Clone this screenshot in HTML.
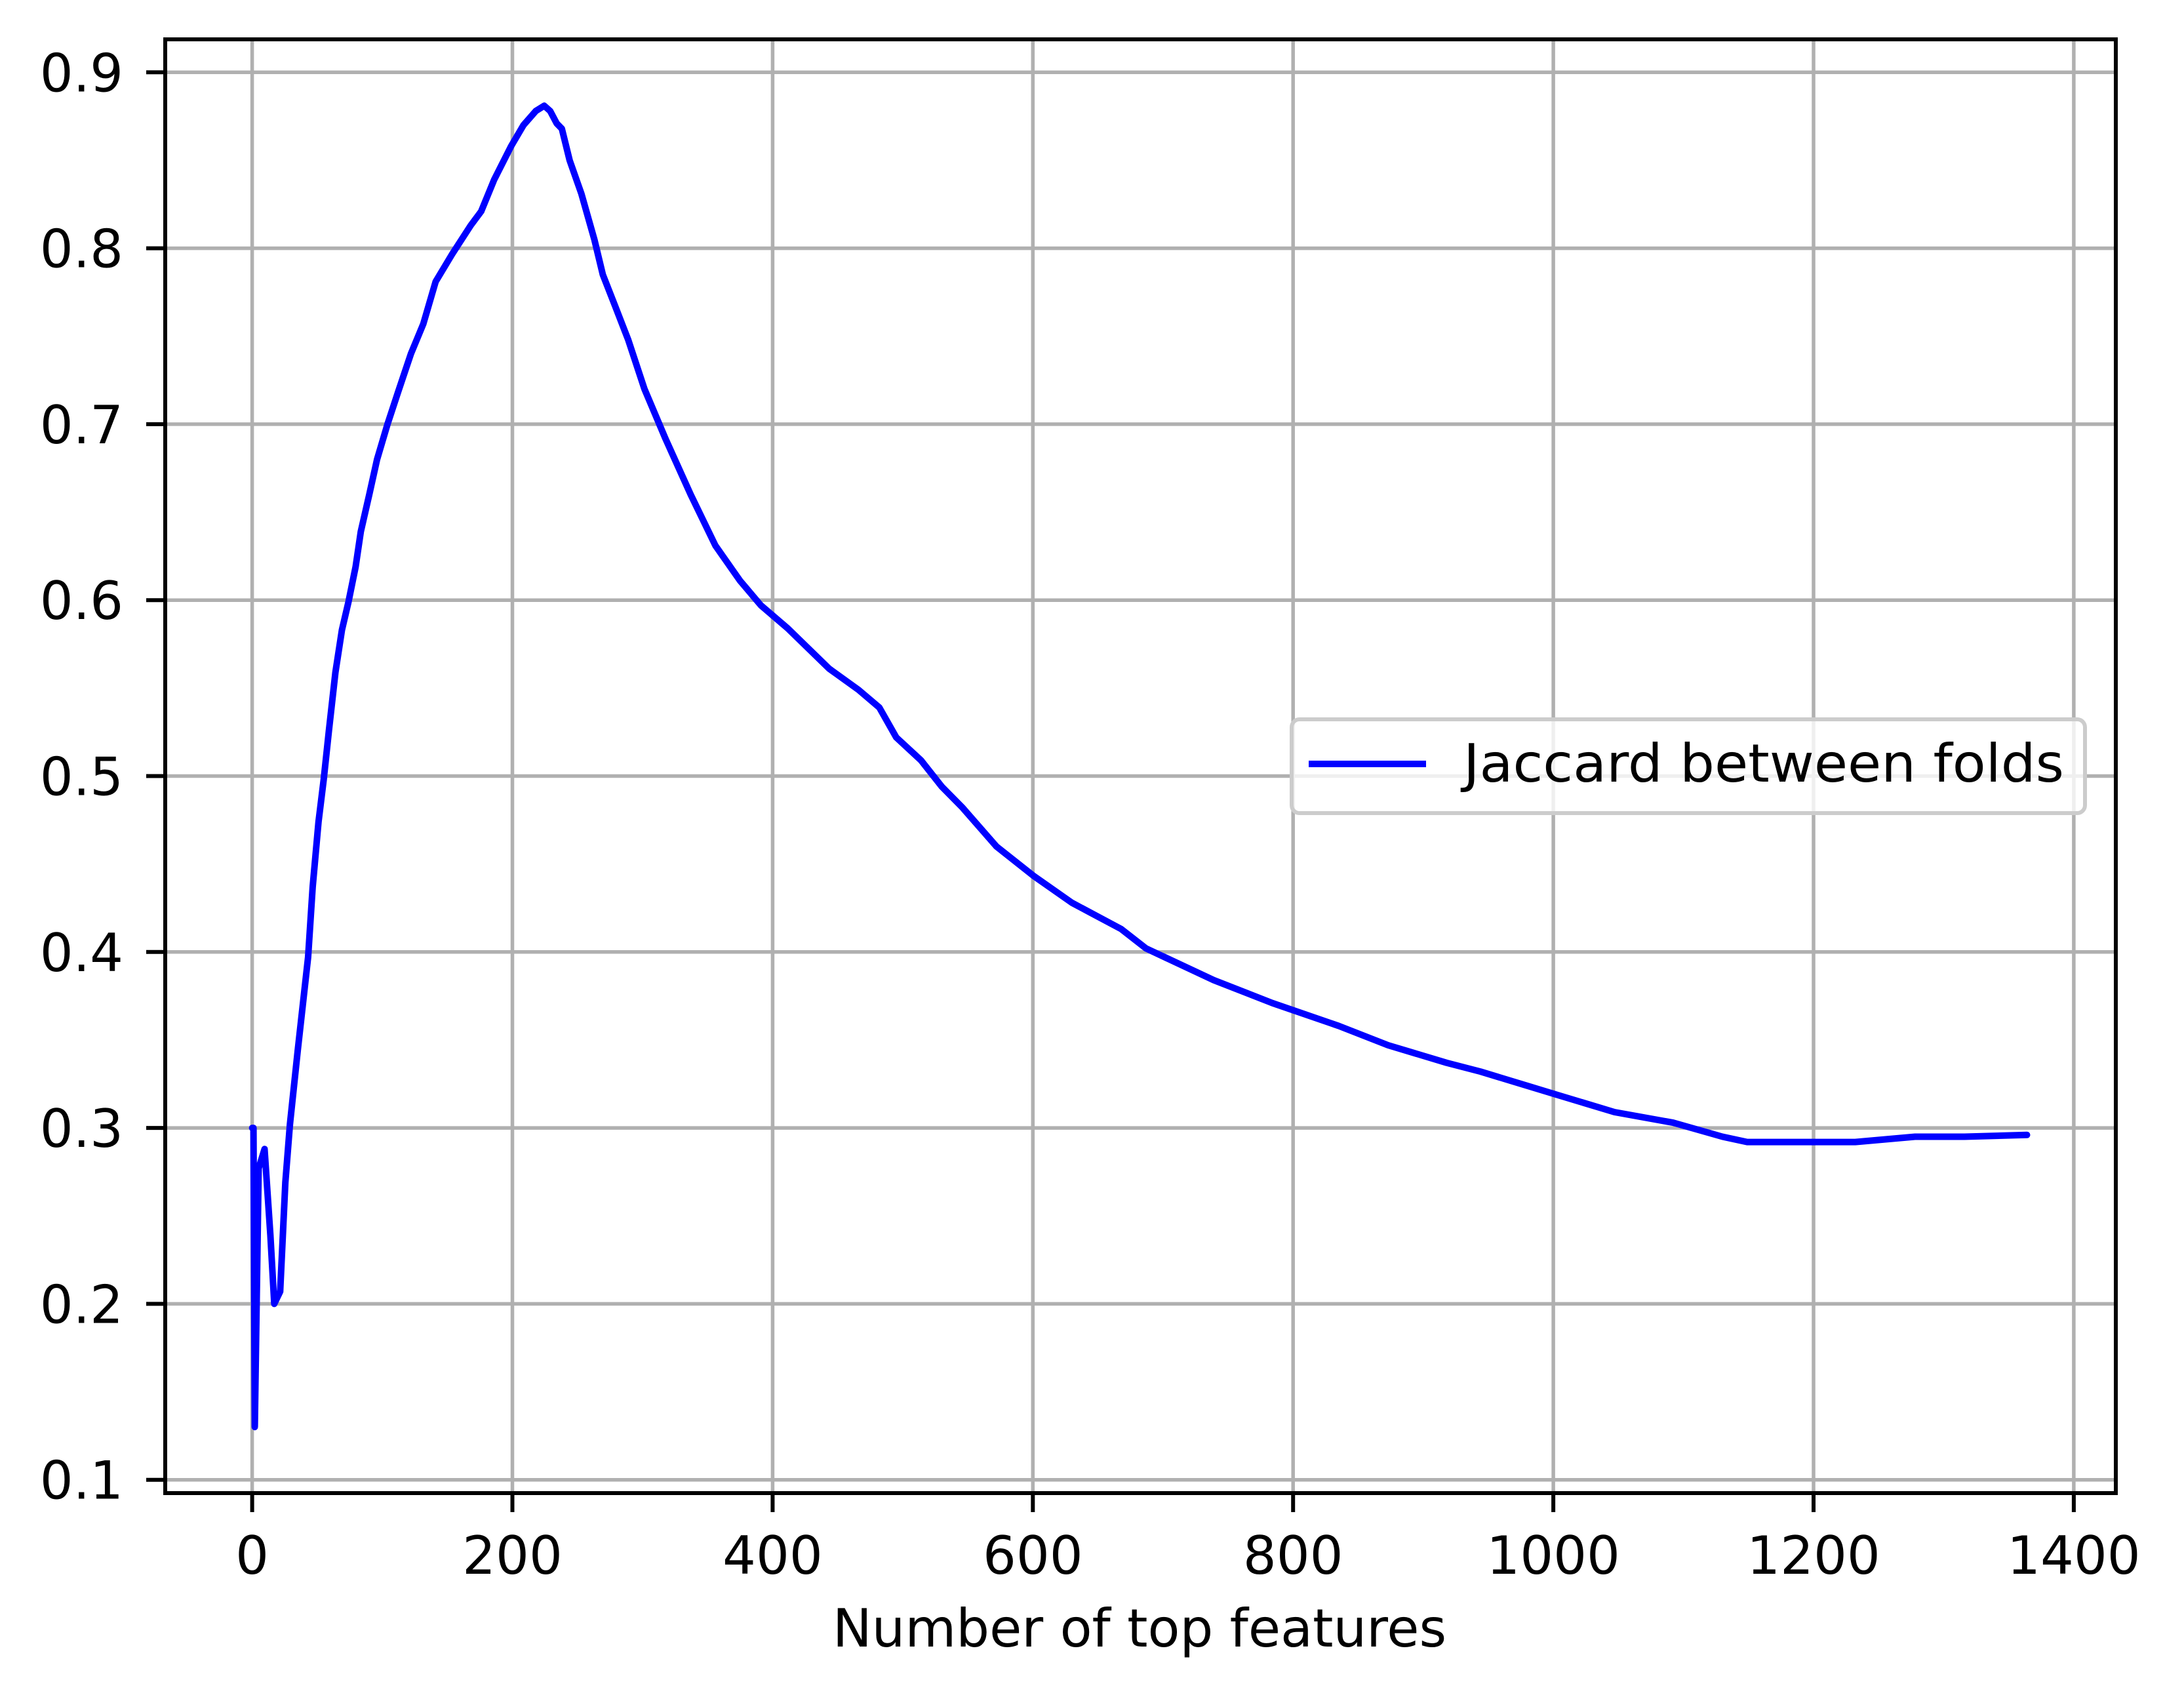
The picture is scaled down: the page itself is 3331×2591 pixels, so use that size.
<!DOCTYPE html>
<html><head><meta charset="utf-8"><style>
html,body{margin:0;padding:0;background:#fff;}
svg{display:block;font-family:"DejaVu Sans","Liberation Sans",sans-serif;}
</style></head><body>
<svg id="chart" width="3331" height="2591" viewBox="0 0 3331 2591" xmlns="http://www.w3.org/2000/svg">
<rect x="0" y="0" width="3331" height="2591" fill="#fff"/>
<g id="grid"></g>
<g id="series"></g>
<rect x="252" y="60" width="2975" height="2217" fill="none" stroke="#000" stroke-width="6"/>
<g id="ticks"></g>
<text x="1738" y="2511" font-size="80" text-anchor="middle">Number of top features</text>
<g>
<rect x="1970" y="1097" width="1210" height="143" rx="12" fill="#fff" fill-opacity="0.8" stroke="#cccccc" stroke-width="6"/>
<line x1="1996" y1="1165" x2="2175" y2="1165" stroke="#0000ff" stroke-width="10"/>
<text x="2232" y="1192" font-size="80" textLength="916" lengthAdjust="spacingAndGlyphs">Jaccard between folds</text>
</g>
</svg>
<script>
const xTicks = [0, 200, 400, 600, 800, 1000, 1200, 1400];
const yTicks = [0.1, 0.2, 0.3, 0.4, 0.5, 0.6, 0.7, 0.8, 0.9];
const yTickLabels = ["0.1","0.2","0.3","0.4","0.5","0.6","0.7","0.8","0.9"];
const featureCounts = [0,1,2,5,9.5,14,17,21.5,25.5,29,35,43,46.5,51,55,59,64,69,74,79.5,83.5,90,96,104,112,122,131.5,141,154,168,176,186,199,208.5,218,224.5,229,234,238,244,253,263,269.5,279,289,301.5,317.5,337,356,375,391,411.5,443.5,466,482,495,514,530,546,572,601,630,668,687,739,784,835,873,918,944,1002,1047,1092,1130,1149,1200,1232,1278,1316,1364];
const jaccardValues = [0.300,0.300,0.130,0.277,0.288,0.239,0.200,0.207,0.269,0.302,0.344,0.397,0.437,0.474,0.498,0.526,0.559,0.583,0.599,0.619,0.639,0.660,0.680,0.700,0.718,0.740,0.757,0.781,0.797,0.813,0.821,0.839,0.858,0.870,0.878,0.881,0.878,0.871,0.868,0.850,0.831,0.805,0.785,0.767,0.748,0.720,0.692,0.660,0.631,0.611,0.597,0.584,0.561,0.549,0.539,0.522,0.509,0.494,0.482,0.460,0.443,0.428,0.413,0.402,0.384,0.371,0.358,0.347,0.337,0.332,0.319,0.309,0.303,0.295,0.292,0.292,0.292,0.295,0.295,0.296];

const NS = "http://www.w3.org/2000/svg";
function xScale(v){ return 384.6 + v * 1.9845; }
function yScale(v){ return 110.3 + (0.9 - v) * 2683; }
const grid = document.getElementById('grid');
const ticks = document.getElementById('ticks');
const series = document.getElementById('series');

xTicks.forEach(function(t){
  const x = xScale(t);
  const g = document.createElementNS(NS,'line');
  g.setAttribute('x1',x); g.setAttribute('x2',x); g.setAttribute('y1',60); g.setAttribute('y2',2277);
  g.setAttribute('stroke','#b0b0b0'); g.setAttribute('stroke-width','5.5');
  
  
  grid.appendChild(g);
  const tk = document.createElementNS(NS,'line');
  tk.setAttribute('x1',x); tk.setAttribute('x2',x); tk.setAttribute('y1',2277); tk.setAttribute('y2',2306);
  tk.setAttribute('stroke','#000'); tk.setAttribute('stroke-width','6');
  
  
  ticks.appendChild(tk);
  const tx = document.createElementNS(NS,'text');
  tx.setAttribute('x',x); tx.setAttribute('y',2400);
  tx.setAttribute('font-size','80'); tx.setAttribute('text-anchor','middle');
  tx.textContent = String(t);
  
  
  ticks.appendChild(tx);
});

yTicks.forEach(function(t,i){
  const y = yScale(t);
  const g = document.createElementNS(NS,'line');
  g.setAttribute('x1',252); g.setAttribute('x2',3227); g.setAttribute('y1',y); g.setAttribute('y2',y);
  g.setAttribute('stroke','#b0b0b0'); g.setAttribute('stroke-width','5.5');
  
  
  grid.appendChild(g);
  const tk = document.createElementNS(NS,'line');
  tk.setAttribute('x1',223); tk.setAttribute('x2',252); tk.setAttribute('y1',y); tk.setAttribute('y2',y);
  tk.setAttribute('stroke','#000'); tk.setAttribute('stroke-width','6');
  
  
  ticks.appendChild(tk);
  const tx = document.createElementNS(NS,'text');
  tx.setAttribute('x',188); tx.setAttribute('y',y + 29);
  tx.setAttribute('font-size','80'); tx.setAttribute('text-anchor','end');
  tx.textContent = yTickLabels[i];
  
  
  ticks.appendChild(tx);
});

const pts = featureCounts.map(function(v,i){ return xScale(v).toFixed(1) + ',' + yScale(jaccardValues[i]).toFixed(1); }).join(' ');
const line = document.createElementNS(NS,'polyline');
line.setAttribute('points', pts);
line.setAttribute('fill','none'); line.setAttribute('stroke','#0000ff');
line.setAttribute('stroke-width','10'); line.setAttribute('stroke-linejoin','round'); line.setAttribute('stroke-linecap','round');


series.appendChild(line);
</script>
</body></html>
